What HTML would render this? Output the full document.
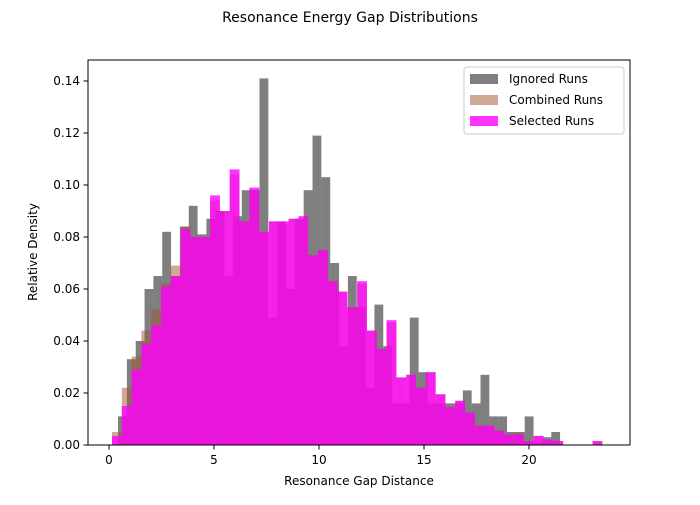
<!DOCTYPE html>
<html><head><meta charset="utf-8"><style>
body{margin:0;background:#fff}
svg text{font-family:"DejaVu Sans","Liberation Sans",sans-serif;fill:#000}
</style></head><body>
<svg id="chart" width="700" height="500" xmlns="http://www.w3.org/2000/svg">
<rect width="700" height="500" fill="#fff"/>
<text x="350" y="22" font-size="14" text-anchor="middle">Resonance Energy Gap Distributions</text>
<g id="bars"></g>
<rect x="88" y="60" width="542" height="385" fill="none" stroke="#000" stroke-width="1"/>
<g id="axes"></g>
<text x="359" y="485" font-size="12" text-anchor="middle">Resonance Gap Distance</text>
<text transform="translate(37,252) rotate(-90)" font-size="12" text-anchor="middle">Relative Density</text>
<g>
<rect x="464" y="67" width="160" height="67" rx="3" fill="#fff" fill-opacity="0.8" stroke="#ccc"/>
<g><rect x="470" y="74" width="28" height="10" fill="#000" fill-opacity="0.5"/><text x="509" y="83" font-size="12">Ignored Runs</text></g>
<g><rect x="470" y="95" width="28" height="10" fill="#a0522d" fill-opacity="0.5"/><text x="509" y="104" font-size="12">Combined Runs</text></g>
<g><rect x="470" y="116" width="28" height="10" fill="#ff00ff" fill-opacity="0.8"/><text x="509" y="125" font-size="12">Selected Runs</text></g>
</g>
</svg>
<script>
const ignoredStart = 0.43, ignoredWidth = 0.421;
const ignoredValues = [0.011,0.033,0.040,0.060,0.065,0.082,0.065,0.084,0.092,0.081,0.087,0.090,0.065,0.088,0.098,0.098,0.141,0.049,0.086,0.060,0.087,0.098,0.119,0.103,0.070,0.038,0.065,0.053,0.022,0.054,0.038,0.016,0.016,0.049,0.028,0.016,0.016,0.016,0.016,0.021,0.016,0.027,0.011,0.011,0.005,0.005,0.011,0.001,0.003,0.005];
const selStart = 0.143, selWidth = 0.467;
const selectedValues = [0.0035,0.015,0.029,0.039,0.046,0.061,0.065,0.083,0.080,0.080,0.096,0.090,0.106,0.086,0.099,0.082,0.086,0.086,0.087,0.088,0.073,0.075,0.063,0.059,0.053,0.063,0.044,0.037,0.048,0.026,0.027,0.022,0.028,0.0195,0.0145,0.017,0.0125,0.0073,0.0075,0.0055,0.004,0.004,0.0015,0.0035,0.002,0.0015,0,0,0,0.0015];
const combinedValues = [0.005,0.022,0.034,0.044,0.052,0.062,0.069,0.084,0.080,0.080,0.094,0.090,0.104,0.086,0.098,0.082,0.086,0.085,0.087,0.087,0.073,0.075,0.063,0.059,0.053,0.062,0.044,0.037,0.047,0.026,0.027,0.022,0.028,0.0195,0.0145,0.017,0.0125,0.0075,0.0075,0.0055,0.004,0.0045,0.0015,0.0035,0.002,0.0015,0,0,0,0.0015];
const xTicks = [0,5,10,15,20];
const yTicks = [0,0.02,0.04,0.06,0.08,0.10,0.12,0.14];
const yTickLabels = ["0.00","0.02","0.04","0.06","0.08","0.10","0.12","0.14"];

const NS = "http://www.w3.org/2000/svg";
function xs(v){return 109 + 21*v;}
function ys(v){return 445 - 2600*v;}
const bars = document.getElementById('bars');
function drawSeries(vals, start, w, fill, op, name){
  vals.forEach((v,i)=>{
    if(v<=0) return;
    const r = document.createElementNS(NS,'rect');
    const x0 = xs(start+i*w), x1 = xs(start+(i+1)*w);
    r.setAttribute('x', x0); r.setAttribute('width', x1-x0);
    r.setAttribute('y', ys(v)); r.setAttribute('height', ys(0)-ys(v));
    r.setAttribute('fill', fill); r.setAttribute('fill-opacity', op);
    
    
    bars.appendChild(r);
  });
}
drawSeries(ignoredValues, ignoredStart, ignoredWidth, '#000', 0.5, 'bar-ignored');
drawSeries(combinedValues, selStart, selWidth, '#a0522d', 0.5, 'bar-combined');
drawSeries(selectedValues, selStart, selWidth, '#ff00ff', 0.8, 'bar-selected');

const axes = document.getElementById('axes');
xTicks.forEach(t=>{
  const l = document.createElementNS(NS,'line');
  l.setAttribute('x1', xs(t)); l.setAttribute('x2', xs(t)); l.setAttribute('y1', 445); l.setAttribute('y2', 449.5);
  l.setAttribute('stroke', '#000');
  
  
  axes.appendChild(l);
  const tx = document.createElementNS(NS,'text');
  tx.setAttribute('x', xs(t)); tx.setAttribute('y', 464); tx.setAttribute('font-size', '12'); tx.setAttribute('text-anchor', 'middle');
  tx.textContent = t;
  
  
  axes.appendChild(tx);
});
yTicks.forEach((t,i)=>{
  const l = document.createElementNS(NS,'line');
  l.setAttribute('x1', 83.5); l.setAttribute('x2', 88); l.setAttribute('y1', ys(t)); l.setAttribute('y2', ys(t));
  l.setAttribute('stroke', '#000');
  
  
  axes.appendChild(l);
  const tx = document.createElementNS(NS,'text');
  tx.setAttribute('x', 80); tx.setAttribute('y', ys(t)+4); tx.setAttribute('font-size', '12'); tx.setAttribute('text-anchor', 'end');
  tx.textContent = yTickLabels[i];
  
  
  axes.appendChild(tx);
});
</script>
</body></html>
